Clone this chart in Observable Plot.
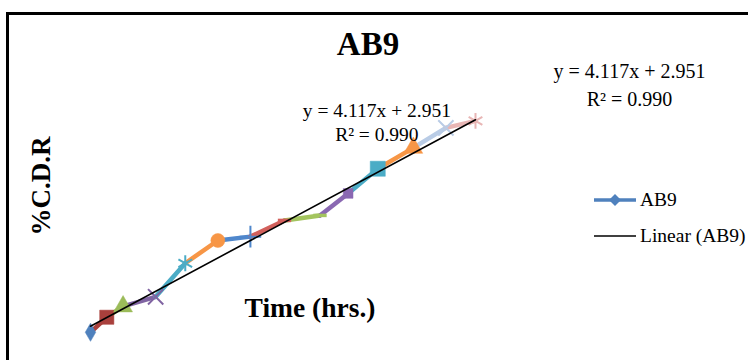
<!DOCTYPE html>
<html>
<head>
<meta charset="utf-8">
<script src="https://cdn.jsdelivr.net/npm/d3@7"></script>
<script src="https://cdn.jsdelivr.net/npm/@observablehq/plot@0.6"></script>
<style>
  html, body { margin: 0; padding: 0; background: #fff; }
  #wrap { position: relative; width: 748px; height: 360px; overflow: hidden; font-family: "Liberation Serif", "Times New Roman", serif; }
  #wrap svg.plot { position: absolute; left: 0; top: 0; }
  .frame { position: absolute; left: 6px; top: 12px; right: -10px; bottom: -10px; border-left: 3px solid #000; border-top: 3px solid #000; pointer-events: none; }
  .title { position: absolute; left: 0; width: 736px; top: 26px; text-align: center; font-weight: bold; font-size: 33px; }
  .ylab { position: absolute; left: 41px; top: 186px; transform: translate(-50%, -50%) rotate(-90deg); font-weight: bold; font-size: 27px; white-space: nowrap; }
  .xlab { position: absolute; left: 310px; top: 308px; transform: translate(-50%, -50%); font-weight: bold; font-size: 27.5px; white-space: nowrap; }
  .legend { position: absolute; left: 593px; top: 182px; font-size: 19.5px; }
  .legend .row { display: flex; align-items: center; height: 36px; white-space: nowrap; }
  .legend svg { margin-right: 3px; }
</style>
</head>
<body>
<div id="wrap"></div>
<script>
// ---- data ----
const seriesName = "AB9";
const times = [1, 1.55, 2.1, 3.2, 4.2, 5.3, 6.4, 7.55, 8.75, 9.7, 10.7, 11.9, 13, 14];
const cdr = [5.5, 9.4, 12.2, 14.7, 23.4, 29.3, 30.3, 34.5, 35.8, 41.5, 47.9, 53.3, 58.5, 60.3];
const pointColors = ["#4F81BD", "#A9403C", "#9BBB59", "#8064A2", "#4BACC6", "#F79646", "#4F87CC", "#D2605C", "#A3C45E", "#8A68B2", "#4BACC6", "#F79646", "#B9CCE6", "#E8B6B5"];
const pointSymbols = ["diamond", "square", "triangle", "times", "asterisk", "circle", "plus", "dash", "dash", "square", "square", "triangle", "times", "asterisk"];
const pointSizes = [5.5, 8, 7, 7, 7.5, 7, 7, 5, 5, 5.5, 8.5, 7, 7, 7.5];
const slope = 4.117;
const intercept = 2.951;
const rSquared = 0.990;
const eqLabels = [
  { x: 10.67, y: 60.2, lh: 1.25, size: 19.5 },
  { x: 19.2, y: 70.0, lh: 1.4, size: 20 }
];

// ---- build ----
const dash = { draw(ctx, size) { const w = Math.sqrt(size) * 0.75; ctx.moveTo(-w, 0); ctx.lineTo(w, 0); } };
const symFor = s => s === "dash" ? dash : s;
const strokeOnly = new Set(["times", "asterisk", "plus", "dash"]);

const pts = times.map((t, i) => ({ t, v: cdr[i], c: pointColors[i], s: pointSymbols[i], r: pointSizes[i] }));
const segs = pts.slice(1).map((p, i) => ({ x1: pts[i].t, y1: pts[i].v, x2: p.t, y2: p.v, c: p.c }));
const tmin = d3.min(times), tmax = d3.max(times);
const trend = [tmin, tmax].map(t => ({ t, v: slope * t + intercept }));
const eqText = `y = ${slope.toFixed(3)}x + ${intercept.toFixed(3)}\nR² = ${rSquared.toFixed(3)}`;

const marks = [
  Plot.link(segs, { x1: "x1", y1: "y1", x2: "x2", y2: "y2", stroke: "c", strokeWidth: 4.5, strokeLinecap: "round" }),
  ...pts.map(p => Plot.dot([p], {
    x: "t", y: "v", r: p.r, symbol: symFor(p.s),
    fill: strokeOnly.has(p.s) ? "none" : p.c,
    stroke: p.c, strokeWidth: strokeOnly.has(p.s) ? (p.s === "dash" ? 3.5 : 2) : 0.5
  })),
  Plot.line(trend, { x: "t", y: "v", stroke: "#000", strokeWidth: 1.6 }),
  ...eqLabels.map(l => Plot.text([l], { x: "x", y: "y", text: () => eqText, lineHeight: l.lh, fontSize: l.size, fill: "#000", textAnchor: "middle" }))
];

const chart = Plot.plot({
  width: 748, height: 360,
  marginLeft: 90, marginRight: 273, marginTop: 83, marginBottom: 7,
  x: { domain: [1, 14], axis: null },
  y: { domain: [0, 70], axis: null },
  style: { fontFamily: "'Liberation Serif', 'Times New Roman', serif", background: "#fff", overflow: "visible" },
  marks
});
chart.classList.add("plot");

const wrap = document.getElementById("wrap");
wrap.appendChild(chart);

const title = document.createElement("div"); title.className = "title"; title.textContent = seriesName; wrap.appendChild(title);
const ylab = document.createElement("div"); ylab.className = "ylab"; ylab.textContent = "%C.D.R"; wrap.appendChild(ylab);
const xlab = document.createElement("div"); xlab.className = "xlab"; xlab.textContent = "Time (hrs.)"; wrap.appendChild(xlab);

const legend = document.createElement("div"); legend.className = "legend";
legend.innerHTML = `
  <div class="row"><svg width="44" height="14"><line x1="1" y1="7" x2="43" y2="7" stroke="${pointColors[0]}" stroke-width="3.5"/><path d="M22 1 L28 7 L22 13 L16 7 Z" fill="${pointColors[0]}"/></svg><span>${seriesName}</span></div>
  <div class="row"><svg width="44" height="14"><line x1="1" y1="7" x2="43" y2="7" stroke="#000" stroke-width="1.5"/></svg><span>Linear (${seriesName})</span></div>`;
wrap.appendChild(legend);

const frame = document.createElement("div"); frame.className = "frame"; wrap.appendChild(frame);
</script>
</body>
</html>
